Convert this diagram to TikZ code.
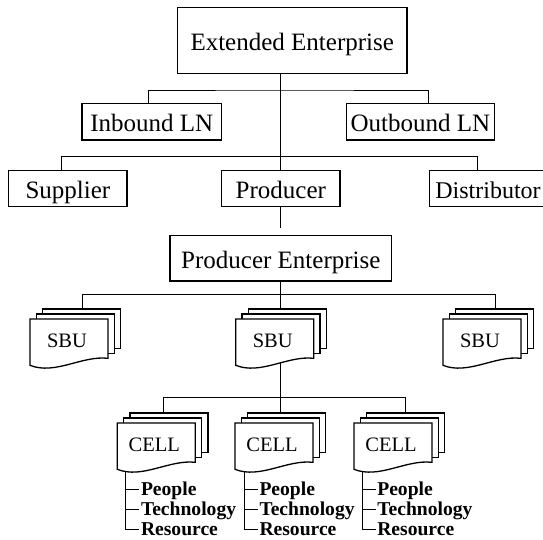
\documentclass[tikz,border=0pt]{standalone}
\usepackage{fontspec}
\setmainfont{Liberation Serif}
\usetikzlibrary{backgrounds}

\pgfdeclarelayer{paper}
\pgfdeclarelayer{wires}
\pgfsetlayers{paper,wires,main}

\tikzset{
  box/.style={draw, line width=1.3pt, inner sep=0pt, align=center,
    font=\fontsize{25}{29}\selectfont, text height=19.5pt, text depth=0pt},
  link/.style={line width=1pt},
  sheet/.style={draw, fill=white, line width=1.3pt, line join=miter},
  doclabel/.style={inner sep=0pt, font=\fontsize{20.5}{24}\selectfont,
    text height=13.5pt, text depth=0pt},
  item/.style={anchor=west, inner xsep=1.5pt, inner ysep=0pt,
    font=\fontsize{19.6}{22}\selectfont\bfseries, text height=13pt, text depth=0pt},
}

% A stack of three sheets, the front one with a wavy lower edge.
% #1 name, #2 #3 top-left corner of the front sheet, #4 label,
% #5 x of the incoming line, #6 x of the outgoing line (relative)
\newcommand{\docstack}[6]{%
  \begin{scope}[shift={(#2,#3)}]
    \filldraw[sheet] (12.6,-10) rectangle (90.6,29.3);
    \filldraw[sheet] (6.3,-5) rectangle (84.3,34.3);
    \filldraw[sheet] (0,0) -- (78,0) -- (78,39.3)
      .. controls (52,36.3) and (25,56.3) .. (0,46.3) -- cycle;
    \node[doclabel] (#1) at (37,21.3) {#4};
    \coordinate (#1-top) at (#5,-10);
    \coordinate (#1-bot) at (#6,44);
  \end{scope}}

% The three resources listed under a cell
\newcommand{\celltree}[2]{%
  \begin{scope}[shift={(#2,423)}]
    \coordinate (#1stem) at (8.5,44);
    \node[item] (#1p) at (22,66) {People};
    \node[item] (#1t) at (22,86) {Technology};
    \node[item] (#1r) at (22,106) {Resource};
  \end{scope}
  \begin{pgfonlayer}{wires}
    \draw[link] (#1stem) |- (#1r.west);
    \draw[link] (#1p.west -| #1stem) -- (#1p.west);
    \draw[link] (#1t.west -| #1stem) -- (#1t.west);
  \end{pgfonlayer}}

\begin{document}
\begin{tikzpicture}[x=1pt, y=-1pt]
  \useasboundingbox (0,0) rectangle (543,539);
  \begin{pgfonlayer}{paper}
    \fill[white] (0,0) rectangle (543,539);
  \end{pgfonlayer}

  % upper tree: the extended enterprise
  \node[box, minimum width=229.3pt, minimum height=66pt] (ee) at (292.2,40.3) {Extended Enterprise};
  \node[box, minimum width=139.6pt, minimum height=36.7pt] (inb) at (151.8,121.7) {Inbound LN};
  \node[box, minimum width=148.2pt, minimum height=36.7pt] (outb) at (420.4,121.7) {Outbound LN};
  \node[box, minimum width=118.3pt, minimum height=36pt] (sup) at (67.9,188.7) {Supplier};
  \node[box, minimum width=118.4pt, minimum height=36pt] (prod) at (280.8,188.7) {Producer};
  \node[box, minimum width=117.2pt, minimum height=36pt, font=\fontsize{24}{28}\selectfont]
    (dist) at (488,188.7) {Distributor};
  \node[box, minimum width=221.7pt, minimum height=45.3pt] (pe) at (280.8,258.3) {Producer Enterprise};

  % junctions of the branching lines
  \coordinate (j1) at (280.7,90);
  \coordinate (j2) at (280.7,156.7);
  \coordinate (pegap) at (280.7,227.7);
  \coordinate (j3) at (280.7,294.3);
  \coordinate (j4) at (280.7,397);

  % strategic business units
  \docstack{sbuL}{30}{319}{SBU}{52}{45}
  \docstack{sbuM}{235.7}{319}{SBU}{45}{45}
  \docstack{sbuR}{443}{319}{SBU}{52}{45}

  % cells
  \docstack{cellL}{117.3}{423}{CELL}{46}{45}
  \docstack{cellM}{235}{423}{CELL}{45.7}{45}
  \docstack{cellR}{354}{423}{CELL}{51.7}{45}

  \celltree{tL}{117.3}
  \celltree{tM}{235.8}
  \celltree{tR}{353.6}

  \begin{pgfonlayer}{wires}
    \draw[link] (ee.south -| j1) -- (prod.north -| j1);
    \draw[link] ([xshift=-2.9pt]inb.north) |- (j1) -| ([xshift=7.9pt]outb.north);
    \draw[link] ([xshift=-6.6pt]sup.north) |- (j2) -| ([xshift=-10.2pt]dist.north);
    \draw[link] (prod.south -| j1) -- (pegap);
    \draw[link] (pe.south -| j3) -- (j3);
    \draw[link] (sbuL-top) |- (j3) -| (sbuR-top);
    \draw[link] (j3) -- (sbuM-top);
    \draw[link] (sbuM-bot) -- (j4);
    \draw[link] (cellL-top) |- (j4) -| (cellR-top);
    \draw[link] (j4) -- (cellM-top);
  \end{pgfonlayer}
\end{tikzpicture}
\end{document}
